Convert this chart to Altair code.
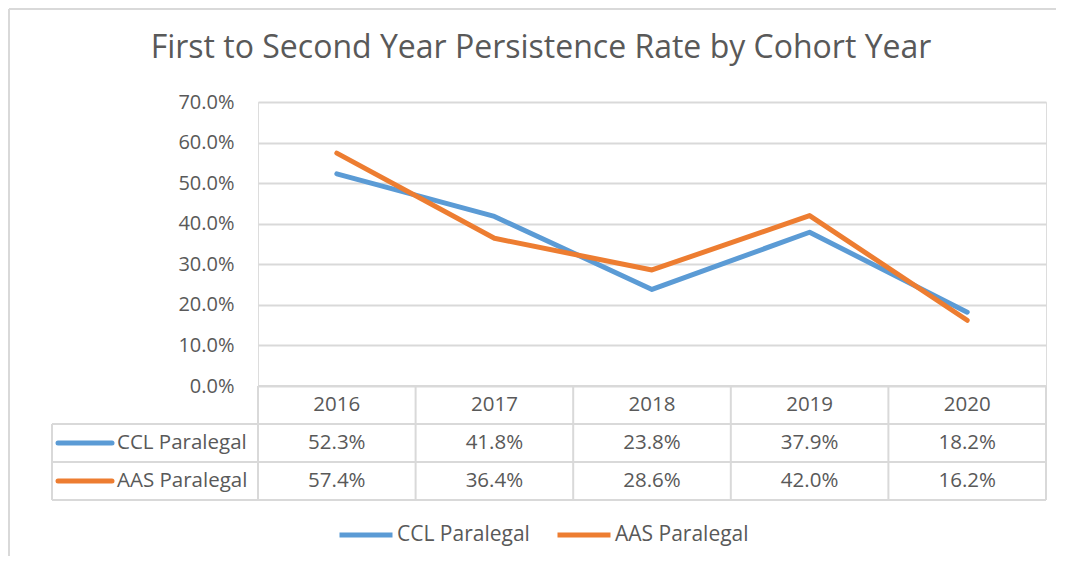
import altair as alt
import pandas as pd

# ---- data ----
years = ["2016", "2017", "2018", "2019", "2020"]
series = ["CCL Paralegal", "AAS Paralegal"]
ccl = [0.523, 0.418, 0.238, 0.379, 0.182]
aas = [0.574, 0.364, 0.286, 0.420, 0.162]
y_ticks = [0.0, 0.1, 0.2, 0.3, 0.4, 0.5, 0.6, 0.7]
colors = ["#5B9BD5", "#ED7D31"]
title_text = "First to Second Year Persistence Rate by Cohort Year"

rows = []
for yr, c, a in zip(years, ccl, aas):
    rows.append({"year": yr, "series": series[0], "value": c})
    rows.append({"year": yr, "series": series[1], "value": a})
df = pd.DataFrame(rows)

# ---- layout constants (pixels, relative to plot area) ----
W, H = 788, 284
ROW = 38
LEFT = -206
GRID = "#d9d9d9"
TXT = "#595959"
FONT = "Open Sans"
FS = 20.5

x_enc = alt.X("year:O", scale=alt.Scale(type="point", padding=0.5, domain=years), axis=None)
y_enc = alt.Y(
    "value:Q",
    scale=alt.Scale(domain=[0, 0.7], nice=False, zero=True),
    axis=alt.Axis(
        values=y_ticks, format=".1%", grid=True, gridColor=GRID, gridWidth=2,
        domain=False, ticks=False, labelPadding=24, labelFontSize=20,
        labelColor=TXT, labelFont=FONT, title=None,
    ),
)
color_enc = alt.Color(
    "series:N",
    scale=alt.Scale(domain=series, range=colors),
    legend=alt.Legend(
        orient="none", legendX=79, legendY=404, direction="horizontal",
        title=None, symbolType="stroke", symbolSize=2809, symbolStrokeWidth=5,
        labelFontSize=21, labelColor=TXT, labelFont=FONT, labelOffset=2,
        columnPadding=17,
    ),
)

base = alt.Chart(df)

lines = [
    base.transform_filter(alt.datum.series == s)
    .mark_line(strokeWidth=5, strokeCap="round", strokeJoin="round")
    .encode(x=x_enc, y=y_enc, color=color_enc)
    for s in series
]

# table grid segments (decoration)
segs = []
for k in range(1, 4):
    segs.append({"x": LEFT, "x2": W, "y": H + k * ROW, "y2": H + k * ROW})
segs.append({"x": 0, "x2": W, "y": H, "y2": H})
segs.append({"x": LEFT, "x2": LEFT, "y": H + ROW, "y2": H + 3 * ROW})
for k in range(6):
    segs.append({"x": k * W / 5, "x2": k * W / 5, "y": H, "y2": H + 3 * ROW})
# outer frame (top and left)
segs.append({"x": -249, "x2": 820, "y": -93, "y2": -93})
segs.append({"x": -249, "x2": -249, "y": -93, "y2": 500})
seg_df = pd.DataFrame(segs)
grid = alt.Chart(seg_df).mark_rule(color=GRID, strokeWidth=2).encode(
    x=alt.X("x:Q", scale=None), x2="x2", y=alt.Y("y:Q", scale=None), y2="y2"
)

text_props = dict(fontSize=FS, color=TXT, font=FONT, baseline="middle")
header = base.transform_filter(alt.datum.series == series[0]).mark_text(**text_props).encode(
    x=x_enc, y=alt.value(H + ROW * 0.5), text="year:N"
)
vals = [
    base.transform_filter(alt.datum.series == s).mark_text(**text_props).encode(
        x=x_enc, y=alt.value(H + ROW * (1.5 + i)), text=alt.Text("value:Q", format=".1%")
    )
    for i, s in enumerate(series)
]
labels = [
    base.transform_filter((alt.datum.series == s) & (alt.datum.year == years[0]))
    .mark_text(align="left", **text_props)
    .encode(x=alt.value(-141), y=alt.value(H + ROW * (1.5 + i)), text="series:N")
    for i, s in enumerate(series)
]
keys = [
    base.transform_filter((alt.datum.series == s) & (alt.datum.year == years[0]))
    .mark_rule(strokeWidth=5, strokeCap="round", color=colors[i])
    .encode(x=alt.value(-200), x2=alt.value(-146), y=alt.value(H + ROW * (1.5 + i)))
    for i, s in enumerate(series)
]
title = alt.Chart(pd.DataFrame({"t": [title_text]})).mark_text(
    fontSize=32, color=TXT, font=FONT, baseline="middle", align="center"
).encode(x=alt.value(283), y=alt.value(-54), text="t:N")

chart = alt.layer(grid, *lines, header, *vals, *keys, *labels, title).properties(
    width=W, height=H,
    autosize=alt.AutoSizeParams(type="none"),
    padding={"left": 250, "top": 94, "right": 10, "bottom": 170},
).configure_view(stroke=None).configure(background="white")

chart.save("out.html", embed_options={"renderer": "svg", "actions": False})
